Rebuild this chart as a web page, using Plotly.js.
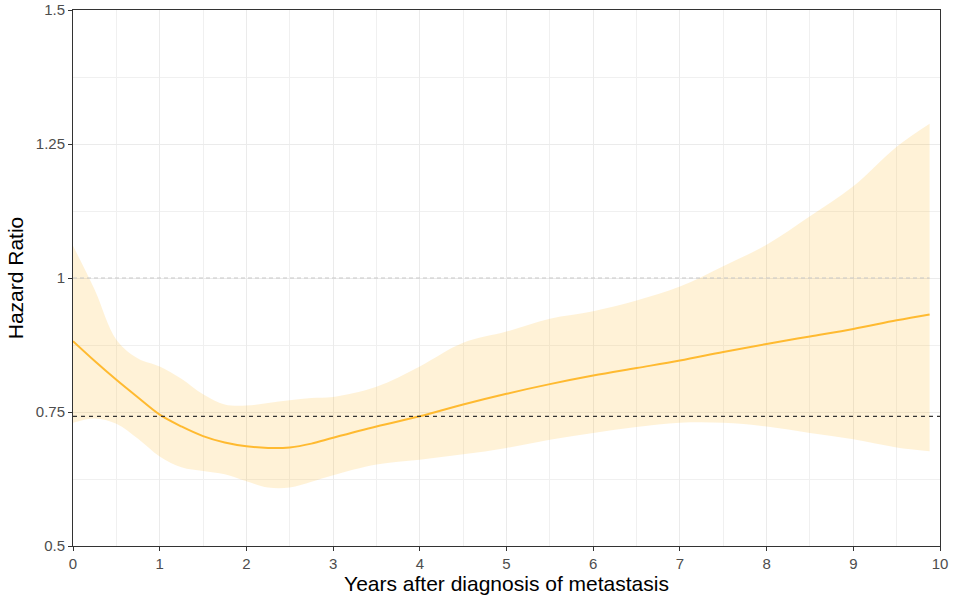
<!DOCTYPE html>
<html>
<head>
<meta charset="utf-8">
<script src="https://cdn.plot.ly/plotly-3.0.1.min.js"></script>
<style>html,body{margin:0;padding:0;background:#fff;}#chart{width:953px;height:598px;}</style>
</head>
<body>
<div id="chart"></div>
<script>
var years = [0, 0.25, 0.5, 0.75, 1, 1.25, 1.5, 1.75, 2, 2.25, 2.5, 2.75, 3, 3.5, 4, 4.5, 5, 5.5, 6, 6.5, 7, 7.5, 8, 8.5, 9, 9.5, 9.88];
var hazard = [0.882, 0.845, 0.810, 0.777, 0.745, 0.723, 0.705, 0.693, 0.686, 0.683, 0.684, 0.691, 0.702, 0.723, 0.742, 0.764, 0.784, 0.802, 0.818, 0.832, 0.846, 0.862, 0.877, 0.891, 0.905, 0.921, 0.932];
var upper = [1.060, 0.978, 0.885, 0.850, 0.835, 0.812, 0.783, 0.764, 0.762, 0.767, 0.772, 0.776, 0.778, 0.797, 0.835, 0.879, 0.900, 0.924, 0.938, 0.958, 0.984, 1.022, 1.062, 1.115, 1.171, 1.245, 1.288];
var lower = [0.730, 0.738, 0.728, 0.700, 0.667, 0.647, 0.640, 0.634, 0.621, 0.609, 0.609, 0.620, 0.632, 0.652, 0.661, 0.671, 0.683, 0.698, 0.711, 0.722, 0.730, 0.730, 0.723, 0.711, 0.699, 0.684, 0.677];
var refLine = 1.0;
var avgHR = 0.742;
var xTicks = [0, 1, 2, 3, 4, 5, 6, 7, 8, 9, 10];
var yTicks = [0.5, 0.75, 1, 1.25, 1.5];
var yTickText = ['0.5', '0.75', '1', '1.25', '1.5'];

var font = 'Liberation Sans, Arial, sans-serif';

var traces = [
  {x: years, y: lower, type: 'scatter', mode: 'lines', line: {width: 0, shape: 'spline'}, hoverinfo: 'skip', showlegend: false},
  {x: years, y: upper, type: 'scatter', mode: 'lines', fill: 'tonexty', fillcolor: 'rgba(255,185,40,0.19)', line: {width: 0, shape: 'spline'}, hoverinfo: 'skip', showlegend: false},
  {x: [years[0], years[years.length - 1]], y: [refLine, refLine], type: 'scatter', mode: 'lines', line: {color: '#c8c8c8', width: 1.2, dash: '4px,3px'}, showlegend: false},
  {x: years, y: hazard, type: 'scatter', mode: 'lines', line: {color: '#FFBA30', width: 2, shape: 'spline'}, showlegend: false}
];

var layout = {
  width: 953, height: 598,
  margin: {l: 73, r: 13, t: 10, b: 52},
  paper_bgcolor: '#fff', plot_bgcolor: '#fff',
  font: {family: font},
  xaxis: {
    range: [0, 10], tickvals: xTicks, ticktext: xTicks.map(String),
    showgrid: true, gridcolor: '#ebebeb', gridwidth: 1,
    minor: {dtick: 0.5, tick0: 0, showgrid: true, gridcolor: '#f0f0f0', gridwidth: 1},
    zeroline: false, showline: true, linecolor: '#333', linewidth: 1, mirror: true,
    ticks: 'outside', ticklen: 4, tickcolor: '#333', tickwidth: 1,
    tickfont: {family: font, size: 15, color: '#4d4d4d'},
    title: {text: 'Years after diagnosis of metastasis', font: {family: font, size: 21, color: '#000'}, standoff: 2}
  },
  yaxis: {
    range: [0.5, 1.5], tickvals: yTicks, ticktext: yTickText,
    showgrid: true, gridcolor: '#ebebeb', gridwidth: 1,
    minor: {dtick: 0.125, tick0: 0.5, showgrid: true, gridcolor: '#f0f0f0', gridwidth: 1},
    zeroline: false, showline: true, linecolor: '#333', linewidth: 1, mirror: true,
    ticks: 'outside', ticklen: 4, tickcolor: '#333', tickwidth: 1,
    tickfont: {family: font, size: 15, color: '#4d4d4d'},
    title: {text: 'Hazard Ratio', font: {family: font, size: 21, color: '#000'}, standoff: 6}
  },
  shapes: [
    {type: 'line', xref: 'paper', yref: 'y', x0: 0, x1: 1, y0: avgHR, y1: avgHR, line: {color: '#333', width: 1.2, dash: '4px,4px'}}
  ]
};

Plotly.newPlot('chart', traces, layout, {displayModeBar: false, staticPlot: true});
</script>
</body>
</html>
